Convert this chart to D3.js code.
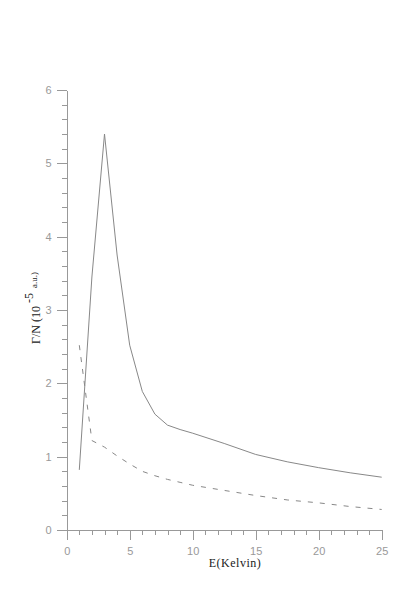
<!DOCTYPE html>
<meta charset="utf-8">
<style>
body { margin: 0; background: #fff; }
.axis path, .axis line { stroke: #999; stroke-width: 1px; shape-rendering: crispEdges; }
.axis text { fill: #999; font-family: "Liberation Sans", Arial, sans-serif; font-size: 11px; }
.title { fill: #222; font-family: "Liberation Serif", "Times New Roman", serif; }
</style>
<body>
<svg width="419" height="601" id="chart"></svg>
<script src="https://d3js.org/d3.v7.min.js"></script>
<script>

// energy (Kelvin) and rates
var energy = [1, 2, 3, 4, 5, 6, 7, 8, 9, 10, 12.5, 15, 17.5, 20, 22.5, 25];
var solid  = [0.82, 3.45, 5.40, 3.75, 2.52, 1.89, 1.58, 1.43, 1.37, 1.32, 1.18, 1.03, 0.93, 0.85, 0.78, 0.72];
var dashed = [2.52, 1.22, 1.13, 1.01, 0.90, 0.80, 0.74, 0.69, 0.65, 0.61, 0.54, 0.47, 0.41, 0.37, 0.32, 0.28];

var xMajor = [0, 5, 10, 15, 20, 25];
var yMajor = [0, 1, 2, 3, 4, 5, 6];

var svg = d3.select("svg");

var x = d3.scaleLinear().domain([0, 25]).range([66.7, 381.7]);
var y = d3.scaleLinear().domain([0, 6]).range([530, 90]);

var xMinor = d3.range(0, 26).filter(function(d) { return d % 5 != 0; });
var yMinor = d3.range(0, 31).map(function(d) { return d / 5; }).filter(function(d, i) { return i % 5 != 0; });

// minor ticks first, no labels
svg.append("g")
    .attr("class", "axis")
    .attr("transform", "translate(0,530)")
    .call(d3.axisBottom(x).tickValues(xMinor).tickSize(5).tickSizeOuter(0).tickFormat(""))
    .select(".domain").remove();
svg.append("g")
    .attr("class", "axis")
    .attr("transform", "translate(66.7,0)")
    .call(d3.axisLeft(y).tickValues(yMinor).tickSize(5).tickSizeOuter(0).tickFormat(""))
    .select(".domain").remove();

svg.append("g")
    .attr("class", "axis")
    .attr("transform", "translate(0,530)")
    .call(d3.axisBottom(x).tickValues(xMajor).tickSize(10).tickSizeOuter(0).tickPadding(7).tickFormat(d3.format("d")));
svg.append("g")
    .attr("class", "axis")
    .attr("transform", "translate(66.7,0)")
    .call(d3.axisLeft(y).tickValues(yMajor).tickSize(10).tickSizeOuter(0).tickPadding(5).tickFormat(d3.format("d")));

var line = d3.line()
    .x(function(d) { return x(d[0]); })
    .y(function(d) { return y(d[1]); });

svg.append("path")
    .datum(d3.zip(energy, solid))
    .attr("d", line)
    .attr("fill", "none")
    .attr("stroke", "#888")
    .attr("stroke-width", 1);

svg.append("path")
    .datum(d3.zip(energy, dashed))
    .attr("d", line)
    .attr("fill", "none")
    .attr("stroke", "#888")
    .attr("stroke-width", 1)
    .attr("stroke-dasharray", "5,7");

// axis titles
svg.append("text")
    .attr("class", "title")
    .attr("x", 235)
    .attr("y", 567)
    .attr("text-anchor", "middle")
    .attr("font-size", 12)
    .attr("letter-spacing", 0.5)
    .text("E(Kelvin)");

var yt = svg.append("text")
    .attr("class", "title")
    .attr("transform", "translate(40,308) rotate(-90)")
    .attr("text-anchor", "middle")
    .attr("font-size", 12);
yt.append("tspan").text("Γ/N (10 ");
yt.append("tspan").attr("dy", -7).text("-5");
yt.append("tspan").attr("dy", 4).attr("dx", 5).attr("font-size", 9).text("a.u.)");

</script>
</body>
